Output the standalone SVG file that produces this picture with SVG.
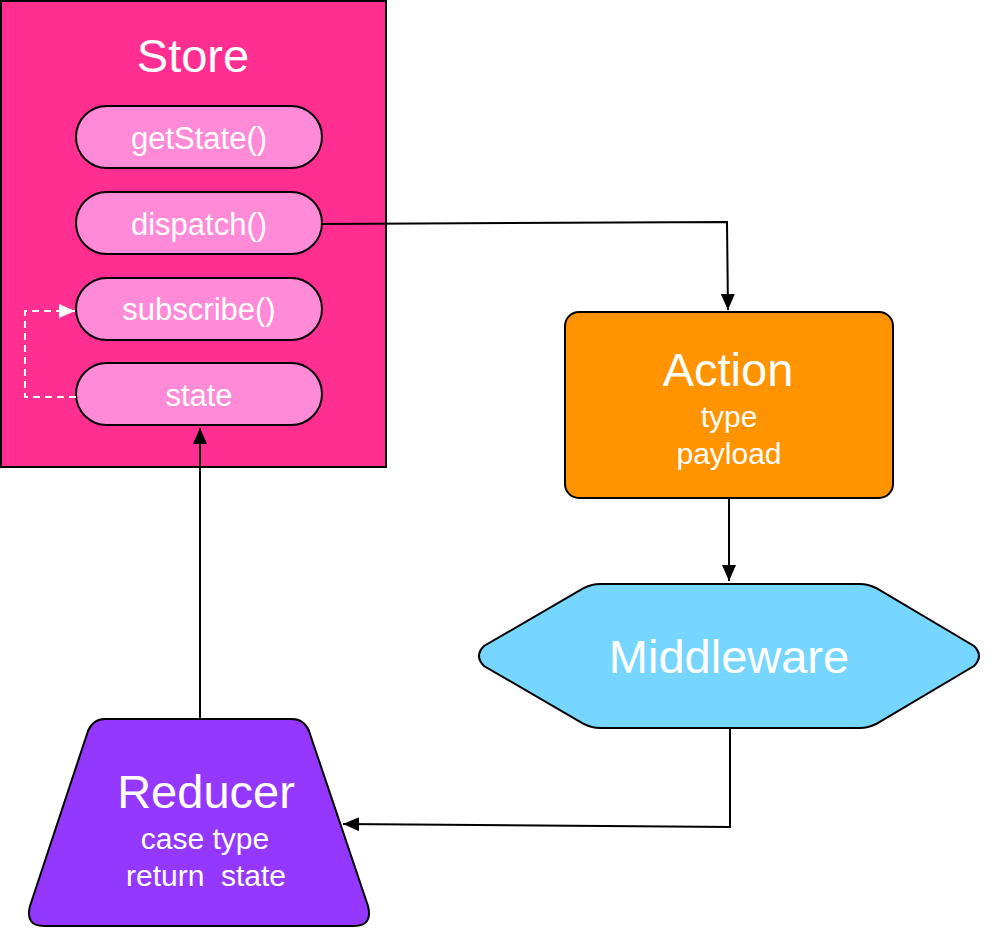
<svg xmlns="http://www.w3.org/2000/svg" width="1002" height="930" viewBox="0 0 1002 930">
<style>
.t{font-family:"Liberation Sans",Arial,sans-serif;fill:#fff;text-anchor:middle}
.big{font-size:47px}
.pill{fill:#FF8AD8;stroke:#000;stroke-width:2}
.pt{font-size:31px}
.sub{font-size:30px}
.edge{fill:none;stroke:#000;stroke-width:2}
</style>
<defs>
<marker id="ah" markerUnits="userSpaceOnUse" markerWidth="16" markerHeight="14" refX="16" refY="7" orient="auto">
<path d="M0,0 L16,7 L0,14 Z" fill="#000"/>
</marker>
<marker id="ahw" markerUnits="userSpaceOnUse" markerWidth="16" markerHeight="14" refX="16" refY="7" orient="auto">
<path d="M0,0 L16,7 L0,14 Z" fill="#fff"/>
</marker>
</defs>
<g id="store">
<rect x="1" y="1" width="385" height="466" fill="#FF2F92" stroke="#000" stroke-width="2"/>
<text class="t big" x="193" y="72">Store</text>
</g>
<g id="getState">
<rect class="pill" x="76" y="106" width="246" height="62" rx="31"/>
<text class="t pt" x="199" y="149">getState()</text>
</g>
<g id="dispatch">
<rect class="pill" x="76" y="192" width="246" height="62" rx="31"/>
<text class="t pt" x="199" y="235">dispatch()</text>
</g>
<g id="subscribe">
<rect class="pill" x="76" y="278" width="246" height="62" rx="31"/>
<text class="t pt" x="199" y="320">subscribe()</text>
</g>
<g id="state">
<rect class="pill" x="76" y="363" width="246" height="62" rx="31"/>
<text class="t pt" x="199" y="406">state</text>
</g>
<g id="action">
<rect x="565" y="312" width="328" height="186" rx="14" fill="#FF9300" stroke="#000" stroke-width="2"/>
<text class="t big" x="728" y="386">Action</text>
<text class="t sub" x="729" y="427">type</text>
<text class="t sub" x="729" y="464">payload</text>
</g>
<g id="middleware">
<path d="M600,584 L860,584 Q868,584 876,588 L974,646 Q984,656 974,666 L876,724 Q868,728 860,728 L600,728 Q592,728 584,724 L484,666 Q474,656 484,646 L584,588 Q592,584 600,584 Z" fill="#76D6FF" stroke="#000" stroke-width="2"/>
<text class="t big" x="729" y="673">Middleware</text>
</g>
<g id="reducer">
<path d="M105,719 L292,719 Q304,719 309,731 L368,906 Q373,926 354,926 L44,926 Q25,926 30,906 L88,731 Q93,719 105,719 Z" fill="#9437FF" stroke="#000" stroke-width="2"/>
<text class="t big" x="206" y="808">Reducer</text>
<text class="t sub" x="205" y="849">case type</text>
<text class="t sub" x="206" y="886" xml:space="preserve">return  state</text>
</g>
<g id="connectors">
<path class="edge" d="M322,224 L727,222 L728,310" marker-end="url(#ah)"/>
<path class="edge" d="M729,499 L729,581" marker-end="url(#ah)"/>
<path class="edge" d="M730,729 L730,827 L343,824" marker-end="url(#ah)"/>
<path class="edge" d="M200,718 L200,428" marker-end="url(#ah)"/>
<path d="M76,397 L25,397 L25,311 L75,311" fill="none" stroke="#fff" stroke-width="2" stroke-dasharray="7,5" marker-end="url(#ahw)"/>
</g>
</svg>
